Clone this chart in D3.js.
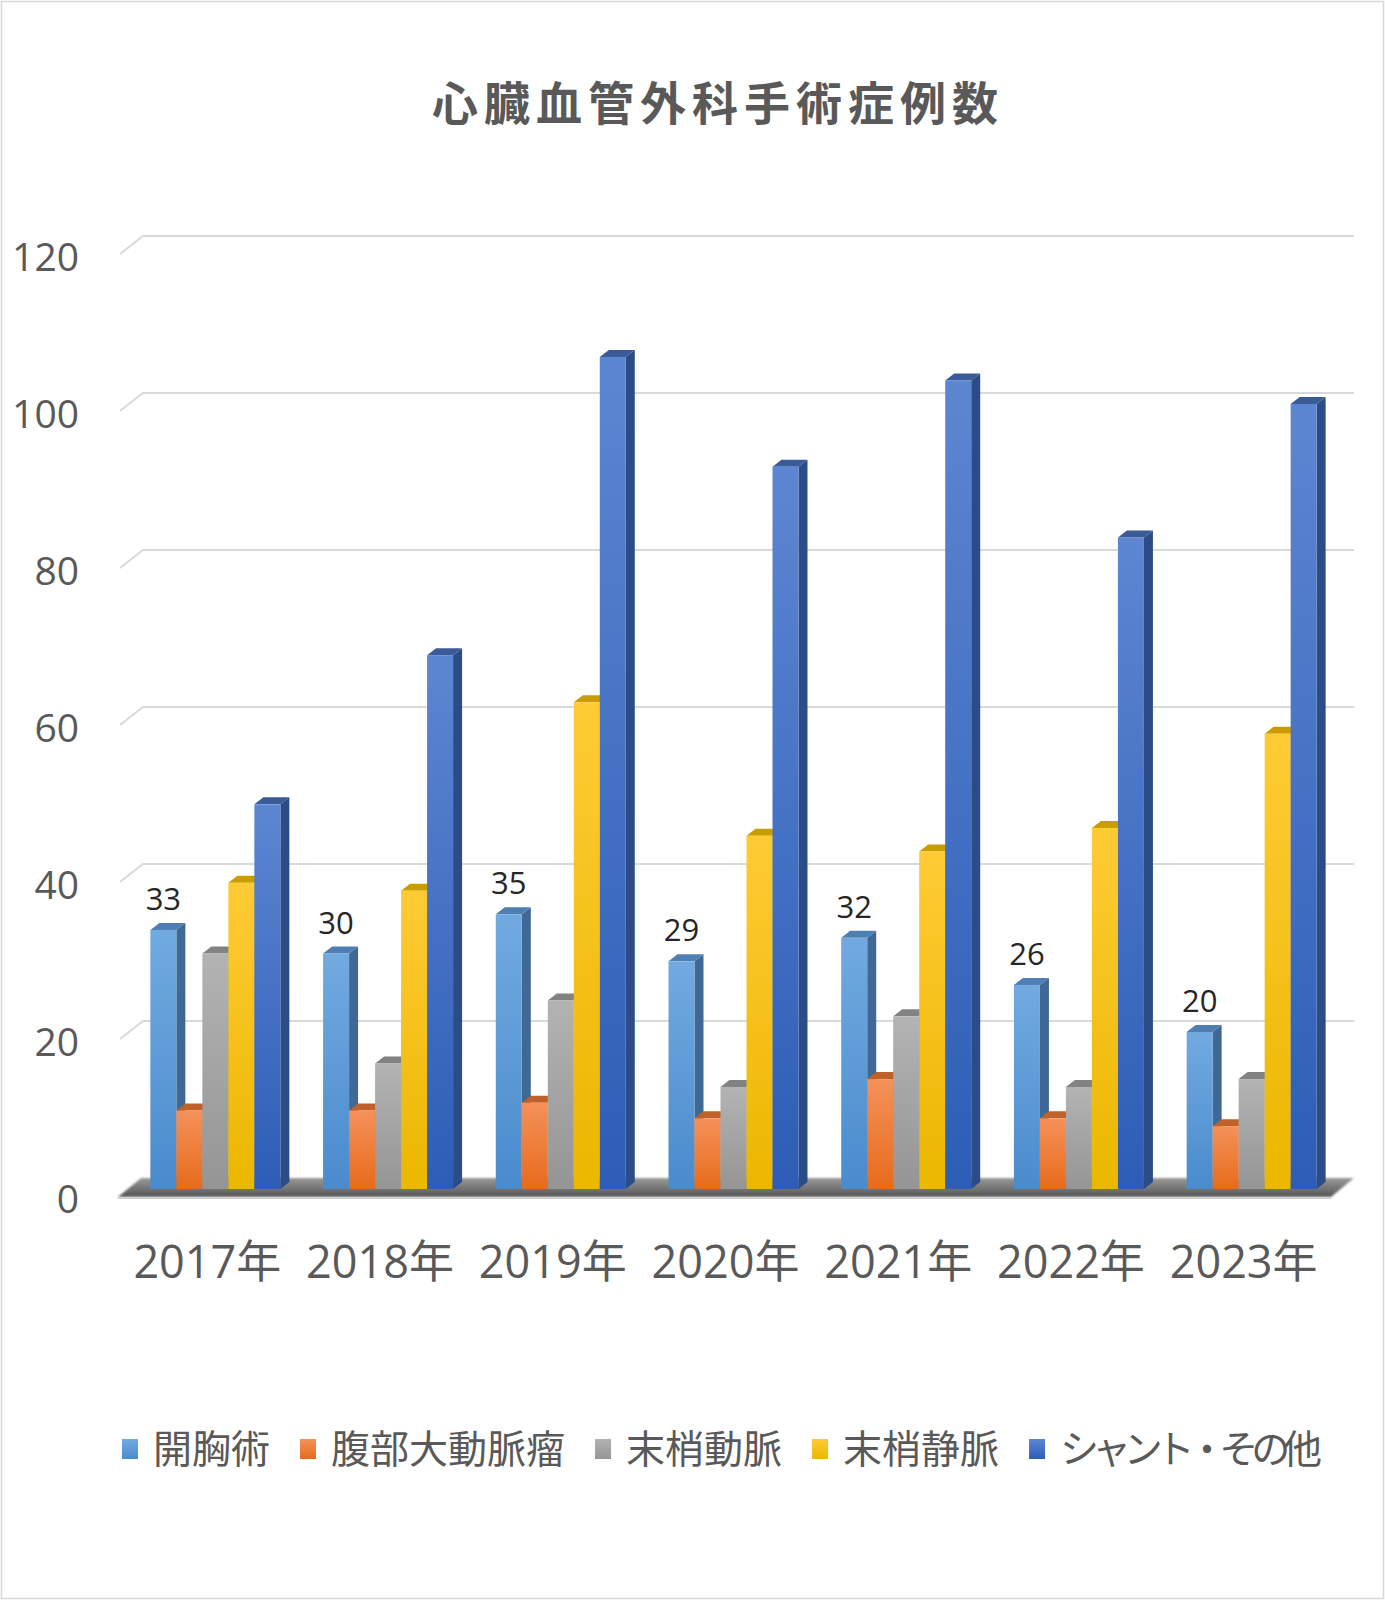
<!DOCTYPE html>
<html>
<head>
<meta charset="utf-8">
<script src="https://cdn.jsdelivr.net/npm/d3@7"></script>
<style>
  body { margin: 0; background: #fff; }
  svg text { font-family: "Open Sans", "Noto Sans CJK JP", sans-serif; }
</style>
</head>
<body>
<div id="chart"></div>
<script>
var years = ["2017年", "2018年", "2019年", "2020年", "2021年", "2022年", "2023年"];
var seriesNames = ["開胸術", "腹部大動脈瘤", "末梢動脈", "末梢静脈", "シャント・その他"];
var kaikyo = [33, 30, 35, 29, 32, 26, 20];
var fukubu = [10, 10, 11, 9, 14, 9, 8];
var mashoDomyaku = [30, 16, 24, 13, 22, 13, 14];
var mashoJomyaku = [39, 38, 62, 45, 43, 46, 58];
var shunt = [49, 68, 106, 92, 103, 83, 100];
var yTicks = [0, 20, 40, 60, 80, 100, 120];

var seriesValues = [kaikyo, fukubu, mashoDomyaku, mashoJomyaku, shunt];
// front top, front bottom, side, top face
var palette = [
    ["#72aae0", "#4a8bcd", "#3f6894", "#4f7fb2"],
    ["#f4915a", "#e76b1b", "#b2561f", "#c0612a"],
    ["#b3b3b3", "#959595", "#6f6f6f", "#828282"],
    ["#ffcb35", "#ebb700", "#b58c00", "#c99c00"],
    ["#5d86d2", "#2d5db6", "#2c4c88", "#3b5b98"]
];

var W = 1385, H = 1600;
var back = { dx: 23, dy: -18 };      // depth of the whole plot box
var barDepth = { dx: 9, dy: -7 };    // depth of each bar
var barShift = { dx: 9, dy: -7 };    // bars sit a little behind the front plane
var groupWidth = 130;

var svg = d3.select("#chart").append("svg")
    .attr("width", W)
    .attr("height", H);

svg.append("rect")
    .attr("x", 1.5).attr("y", 1.5)
    .attr("width", W - 3).attr("height", H - 3)
    .attr("fill", "#fff")
    .attr("stroke", "#d9d9d9")
    .attr("stroke-width", 1.5);

var defs = svg.append("defs");
palette.forEach(function(c, i) {
    var g = defs.append("linearGradient")
        .attr("id", "grad" + i)
        .attr("x1", 0).attr("y1", 0).attr("x2", 0).attr("y2", 1);
    g.append("stop").attr("offset", "0%").attr("stop-color", c[0]);
    g.append("stop").attr("offset", "100%").attr("stop-color", c[1]);
});
var floorGrad = defs.append("linearGradient")
    .attr("id", "floorGrad")
    .attr("x1", 0).attr("y1", 0).attr("x2", 0).attr("y2", 1);
floorGrad.append("stop").attr("offset", "0%").attr("stop-color", "#9a9a9a");
floorGrad.append("stop").attr("offset", "100%").attr("stop-color", "#555");
defs.append("filter").attr("id", "soft")
    .append("feGaussianBlur").attr("stdDeviation", 1.2);

var x0 = d3.scaleBand().domain(years).range([120, 1329]);
var x1 = d3.scaleBand().domain(seriesNames).range([0, groupWidth]);
var y = d3.scaleLinear().domain([0, 120]).range([1196, 254]);

// title
svg.append("text")
    .text("心臓血管外科手術症例数")
    .attr("x", 718)
    .attr("y", 100)
    .attr("text-anchor", "middle")
    .attr("dominant-baseline", "central")
    .style("font-family", "'Noto Sans CJK JP', sans-serif")
    .style("font-size", "46px")
    .style("font-weight", "bold")
    .style("letter-spacing", "6px")
    .attr("fill", "#595959");

// gridlines on the back wall with the slanted part on the left wall
var grid = svg.append("g");
yTicks.filter(function(d) { return d > 0; }).forEach(function(v) {
    var yy = y(v);
    grid.append("polyline")
        .attr("points", [
            [120, yy],
            [120 + back.dx, yy + back.dy],
            [1354, yy + back.dy]
        ].join(" "))
        .attr("fill", "none")
        .attr("stroke", "#d9d9d9")
        .attr("stroke-width", 2);
});

// floor
var y0 = y(0);
svg.append("polygon")
    .attr("points", [
        [118, y0 + 1],
        [1331, y0 + 1],
        [1331 + back.dx, y0 + back.dy],
        [118 + back.dx, y0 + back.dy]
    ].join(" "))
    .attr("fill", "url(#floorGrad)")
    .attr("filter", "url(#soft)");
svg.append("line")
    .attr("x1", 118).attr("x2", 1331)
    .attr("y1", y0 + 2).attr("y2", y0 + 2)
    .attr("stroke", "#d0d0d0")
    .attr("stroke-width", 2);

// y axis labels
svg.append("g").selectAll("text")
    .data(yTicks)
    .enter().append("text")
    .text(function(d) { return d; })
    .attr("x", 79)
    .attr("y", function(d) { return y(d) + 3; })
    .attr("dy", "0.35em")
    .attr("text-anchor", "end")
    .style("font-size", "39px")
    .attr("fill", "#595959");

// x axis labels
svg.append("g").selectAll("text")
    .data(years)
    .enter().append("text")
    .text(function(d) { return d; })
    .attr("x", function(d) { return x0(d) + x0.bandwidth() / 2 + 1; })
    .attr("y", 1278)
    .attr("text-anchor", "middle")
    .style("font-size", "45px")
    .attr("fill", "#595959");

// bars
var w = x1.bandwidth();
var bars = svg.append("g");
years.forEach(function(year, yi) {
    var gx = x0(year) + (x0.bandwidth() - groupWidth) / 2 + barShift.dx;
    seriesNames.forEach(function(name, si) {
        var v = seriesValues[si][yi];
        var bx = gx + x1(name);
        var base = y(0) + barShift.dy;
        var top = y(v) + barShift.dy;
        var c = palette[si];
        bars.append("polygon")
            .attr("points", [
                [bx + w, top], [bx + w + barDepth.dx, top + barDepth.dy],
                [bx + w + barDepth.dx, base + barDepth.dy], [bx + w, base]
            ].join(" "))
            .attr("fill", c[2]);
        bars.append("polygon")
            .attr("points", [
                [bx, top], [bx + w, top],
                [bx + w + barDepth.dx, top + barDepth.dy], [bx + barDepth.dx, top + barDepth.dy]
            ].join(" "))
            .attr("fill", c[3]);
        bars.append("rect")
            .attr("x", bx)
            .attr("y", top)
            .attr("width", w)
            .attr("height", base - top)
            .attr("fill", "url(#grad" + si + ")");
    });

    // data label on the first series
    var lx = gx + x1(seriesNames[0]) + w / 2;
    svg.append("text")
        .text(kaikyo[yi])
        .attr("x", lx)
        .attr("y", y(kaikyo[yi]) + barShift.dy - 20)
        .attr("text-anchor", "middle")
        .style("font-size", "31px")
        .attr("fill", "#262626");
});

// legend
var legend = svg.append("g");
var lx = 122;
seriesNames.forEach(function(name, si) {
    legend.append("rect")
        .attr("x", lx)
        .attr("y", 1449 - 10)
        .attr("width", 16)
        .attr("height", 20)
        .attr("fill", "url(#grad" + si + ")");
    var t = legend.append("text")
        .text(name)
        .attr("x", lx + 31)
        .attr("y", 1449)
        .attr("dy", "0.35em")
        .style("font-family", "'Noto Sans CJK JP', sans-serif")
        .style("font-size", "39px")
        .attr("fill", "#595959");
    // the last entry is set a little tighter in the original
    if (name.indexOf("・") >= 0) {
        t.attr("textLength", 262).attr("lengthAdjust", "spacing");
    }
    lx += 31 + t.node().getComputedTextLength() + 30;
});
</script>
</body>
</html>
